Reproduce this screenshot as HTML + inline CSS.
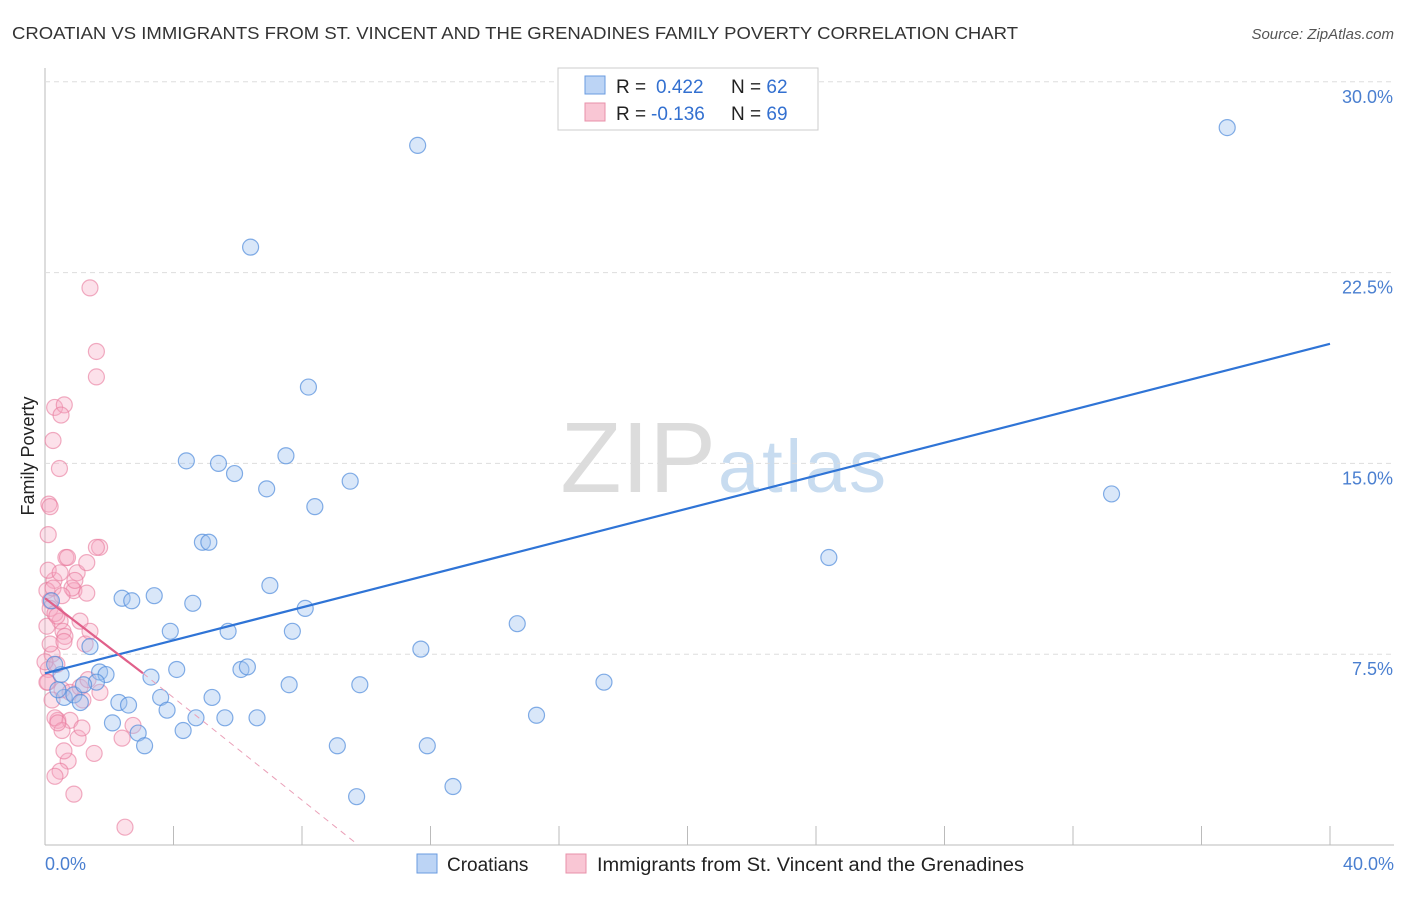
<!DOCTYPE html>
<html><head><meta charset="utf-8"><style>
body{margin:0;background:#fff;font-family:"Liberation Sans",sans-serif}
svg text{font-family:"Liberation Sans",sans-serif}
</style></head><body>
<svg id="c" width="1406" height="892">
<text x="12" y="39" font-size="17.5" fill="#333" textLength="1006" lengthAdjust="spacingAndGlyphs">CROATIAN VS IMMIGRANTS FROM ST. VINCENT AND THE GRENADINES FAMILY POVERTY CORRELATION CHART</text>
<text x="1394" y="39" font-size="15" fill="#555" text-anchor="end" font-style="italic">Source: ZipAtlas.com</text>
<text x="716" y="492" font-size="100" fill="#dcdcdc" text-anchor="end" font-family="Liberation Serif">ZIP</text>
<text x="718" y="492" font-size="74" fill="#c8dcf0" textLength="168">atlas</text>
<g id="grid"></g><g id="pts"></g><g id="lines"></g>
<text transform="translate(34,456) rotate(-90)" font-size="18" fill="#222" text-anchor="middle">Family Poverty</text>
<text x="45" y="870" font-size="18" fill="#4a7fd0">0.0%</text>
<text x="1394" y="870" font-size="18" fill="#4a7fd0" text-anchor="end">40.0%</text>
<g>
<rect x="558" y="68" width="260" height="62" fill="#fff" stroke="#ccc"/>
<rect x="585" y="76" width="20" height="18" fill="#bcd4f5" stroke="#6a9be0"/>
<rect x="585" y="103" width="20" height="18" fill="#f9c6d4" stroke="#e890aa"/>
<text x="616" y="93" font-size="19" fill="#222">R = <tspan x="656" fill="#3370d0">0.422</tspan><tspan x="731">N = </tspan><tspan fill="#3370d0">62</tspan></text>
<text x="616" y="120" font-size="19" fill="#222">R = <tspan x="651" fill="#3370d0">-0.136</tspan><tspan x="731">N = </tspan><tspan fill="#3370d0">69</tspan></text>
</g>
<g>
<rect x="417" y="854" width="20" height="19" fill="#bcd4f5" stroke="#6a9be0"/>
<text x="447" y="871" font-size="19" fill="#222">Croatians</text>
<rect x="566" y="854" width="20" height="19" fill="#f9c6d4" stroke="#e890aa"/>
<text x="597" y="871" font-size="19" fill="#222" textLength="427" lengthAdjust="spacingAndGlyphs">Immigrants from St. Vincent and the Grenadines</text>
</g>
</svg>
<script>
const yTicks=[7.5,15,22.5,30];
const xTicks=[0,4,8,12,16,20,24,28,32,36,40];
const blueX=[11.6,36.8,6.4,8.2,4.4,5.4,5.9,7.5,6.9,8.4,9.5,33.2,4.9,5.1,24.4,7.0,2.4,2.7,3.4,4.6,8.1,14.7,3.9,5.7,7.7,11.7,1.4,4.1,6.1,6.3,3.3,1.7,1.9,1.6,0.5,7.6,9.8,17.4,3.6,2.3,2.6,5.2,0.6,0.9,1.1,3.8,4.7,5.6,6.6,15.3,2.1,2.9,4.3,3.1,9.1,11.9,12.7,9.7,0.2,0.3,0.4,1.2];
const blueY=[27.5,28.2,23.5,18.0,15.1,15.0,14.6,15.3,14.0,13.3,14.3,13.8,11.9,11.9,11.3,10.2,9.7,9.6,9.8,9.5,9.3,8.7,8.4,8.4,8.4,7.7,7.8,6.9,6.9,7.0,6.6,6.8,6.7,6.4,6.7,6.3,6.3,6.4,5.8,5.6,5.5,5.8,5.8,5.9,5.6,5.3,5.0,5.0,5.0,5.1,4.8,4.4,4.5,3.9,3.9,3.9,2.3,1.9,9.6,7.1,6.1,6.3];
const pinkX=[1.4,1.6,1.6,0.3,0.6,0.5,0.25,0.45,0.12,0.16,0.1,0.65,0.7,1.7,1.6,1.0,1.3,0.28,0.1,0.9,1.3,0.06,0.16,0.16,0.47,0.56,0.62,0.06,0.31,1.25,0.22,0.1,0.37,0.53,0.78,1.09,1.34,1.71,0.4,0.31,0.78,0.53,1.03,1.15,2.74,2.4,1.53,0.72,0.47,0.31,0.9,2.49,0.09,0.22,0.16,0.37,0.84,0.47,0.59,0,0.06,0.25,1.09,1.4,0.59,0.4,0.93,0.53,1.18];
const pinkY=[21.9,19.4,18.4,17.2,17.3,16.9,15.9,14.8,13.4,13.3,12.2,11.3,11.3,11.7,11.7,10.7,11.1,10.4,10.8,10.0,9.9,10.0,9.6,9.3,8.8,8.4,8.2,8.6,9.1,7.9,7.5,6.9,7.1,6.1,6.0,6.2,6.5,6.0,4.9,5.0,4.9,4.5,4.2,4.6,4.7,4.2,3.6,3.3,2.9,2.7,2.0,0.7,6.4,5.7,7.9,9.0,10.1,10.7,8.0,7.2,6.4,10.1,8.8,8.4,3.7,4.8,10.4,9.8,5.7];
const blueLine=[[0,6.75],[40,19.7]];
const pinkLine=[[0,9.7],[3.05,6.75]];
const pinkDash=[[3.05,6.75],[9.75,0]];
const X=v=>45+v*32.125, Y=v=>845-v*25.44;
const NS="http://www.w3.org/2000/svg";
function mk(t,a,p){const e=document.createElementNS(NS,t);for(const k in a)e.setAttribute(k,a[k]);p.appendChild(e);return e;}
const g=document.getElementById('grid');
mk('line',{x1:45,y1:68,x2:45,y2:845,stroke:'#bbb'},g);
mk('line',{x1:45,y1:845,x2:1394,y2:845,stroke:'#bbb'},g);
yTicks.forEach(t=>{
 const l=mk('line',{x1:45,y1:Y(t),x2:1394,y2:Y(t),stroke:'#ddd','stroke-dasharray':'5,4'},g);
 
 
 const tx=mk('text',{x:1393,y:Y(t)+21,'font-size':18,fill:'#4a7fd0','text-anchor':'end'},g);
 tx.textContent=t.toFixed(1)+'%';
 
 
});
xTicks.forEach(t=>{
 const l=mk('line',{x1:X(t),y1:826,x2:X(t),y2:845,stroke:'#bbb'},g);
 
 
});
const p=document.getElementById('pts');
pinkX.forEach((v,i)=>{
 const c=mk('circle',{cx:X(v),cy:Y(pinkY[i]),r:8,fill:'rgba(246,170,195,0.35)',stroke:'rgba(232,120,155,0.6)','stroke-width':1.2},p);
 
 
});
blueX.forEach((v,i)=>{
 const c=mk('circle',{cx:X(v),cy:Y(blueY[i]),r:8,fill:'rgba(160,195,240,0.4)',stroke:'rgba(80,140,220,0.7)','stroke-width':1.2},p);
 
 
});
const L=document.getElementById('lines');
const b=mk('line',{x1:X(blueLine[0][0]),y1:Y(blueLine[0][1]),x2:X(blueLine[1][0]),y2:Y(blueLine[1][1]),stroke:'#2f74d6','stroke-width':2.2},L);


const pk=mk('line',{x1:X(pinkLine[0][0]),y1:Y(pinkLine[0][1]),x2:X(pinkLine[1][0]),y2:Y(pinkLine[1][1]),stroke:'#e0608a','stroke-width':2.2},L);


const pd=mk('line',{x1:X(pinkDash[0][0]),y1:Y(pinkDash[0][1]),x2:X(pinkDash[1][0]),y2:Y(pinkDash[1][1]),stroke:'#eaa0b8','stroke-width':1,'stroke-dasharray':'6,5'},L);


</script>
</body></html>
